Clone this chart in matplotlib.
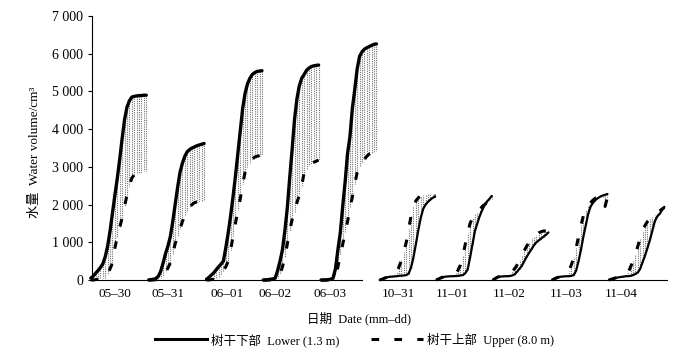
import numpy as np
import matplotlib
matplotlib.use('Agg')
import matplotlib.pyplot as plt
from matplotlib.lines import Line2D
from matplotlib.ticker import FuncFormatter

plt.rcParams['font.family'] = ['Liberation Serif', 'Noto Sans CJK SC']

# hour of day for each sample
hours = np.arange(24)

# ---------- data: cumulative water volume (cm3), hourly ----------
dates_a = ['05\u201330', '05\u201331', '06\u201301', '06\u201302', '06\u201303']
dates_b = ['10\u201331', '11\u201301', '11\u201302', '11\u201303', '11\u201304']

lower_a = [
    [50, 100, 180, 250, 330, 430, 620, 900, 1300, 1780, 2250, 2700, 3200, 3750, 4250, 4580, 4750, 4850, 4870, 4880, 4890, 4890, 4900, 4900],
    [0, 10, 20, 40, 100, 230, 450, 700, 900, 1150, 1550, 2000, 2450, 2850, 3100, 3280, 3400, 3460, 3500, 3530, 3560, 3580, 3600, 3620],
    [20, 70, 130, 190, 270, 350, 420, 500, 850, 1250, 1700, 2200, 2750, 3350, 3950, 4550, 4950, 5200, 5350, 5450, 5500, 5530, 5540, 5550],
    [0, 0, 10, 20, 30, 50, 250, 500, 800, 1300, 1900, 2700, 3450, 4250, 4800, 5150, 5350, 5450, 5560, 5620, 5660, 5680, 5690, 5700],
    [0, 0, 0, 10, 20, 50, 300, 800, 1250, 1950, 2600, 3350, 3800, 4550, 5050, 5600, 5930, 6050, 6120, 6160, 6190, 6220, 6250, 6260],
]
upper_a = [
    [0, 0, 10, 20, 30, 40, 50, 150, 300, 450, 850, 1150, 1400, 1640, 1950, 2250, 2500, 2700, 2790, 2810, 2830, 2850, 2880, 2900],
    [0, 0, 0, 10, 20, 40, 100, 200, 320, 450, 700, 960, 1150, 1350, 1550, 1700, 1830, 1930, 2000, 2050, 2070, 2080, 2090, 2100],
    [0, 0, 10, 20, 40, 80, 150, 250, 350, 500, 800, 1150, 1500, 1850, 2150, 2550, 2850, 3000, 3100, 3200, 3260, 3280, 3300, 3320],
    [0, 0, 0, 0, 10, 20, 50, 150, 350, 600, 950, 1300, 1600, 1800, 2050, 2250, 2500, 2850, 2950, 3030, 3080, 3120, 3150, 3180],
    [0, 0, 0, 0, 10, 20, 100, 350, 650, 950, 1250, 1550, 1900, 2200, 2550, 2850, 3000, 3100, 3200, 3280, 3340, 3380, 3400, 3420],
]
lower_b = [
    [0, 20, 50, 70, 85, 90, 95, 100, 110, 115, 120, 130, 170, 330, 600, 950, 1320, 1640, 1880, 2000, 2070, 2130, 2180, 2210],
    [0, 30, 60, 80, 90, 95, 100, 100, 105, 110, 120, 130, 180, 280, 600, 950, 1300, 1500, 1700, 1850, 1980, 2080, 2150, 2230],
    [0, 40, 80, 90, 95, 100, 100, 105, 120, 150, 220, 300, 380, 500, 620, 720, 820, 920, 1000, 1050, 1100, 1150, 1200, 1260],
    [0, 30, 60, 80, 90, 95, 100, 100, 110, 130, 250, 500, 800, 1150, 1450, 1750, 1950, 2050, 2120, 2170, 2210, 2240, 2260, 2280],
    [0, 20, 40, 60, 70, 80, 90, 100, 100, 110, 130, 160, 200, 300, 480, 650, 850, 1060, 1300, 1550, 1680, 1750, 1850, 1940],
]
upper_b = [
    [0, 20, 50, 70, 90, 100, 120, 200, 350, 520, 750, 1000, 1350, 1700, 1950, 2100, 2180, 2230, 2260, 2280, 2280, 2280, 2260, 2230],
    [0, 30, 60, 80, 90, 100, 110, 130, 180, 260, 400, 650, 950, 1250, 1500, 1650, 1750, 1800, 1850, 1950, 2000, 2050, 2100, 2150],
    [0, 40, 80, 90, 100, 110, 130, 170, 230, 300, 400, 520, 640, 780, 900, 1000, 1080, 1150, 1200, 1250, 1280, 1300, 1300, 1290],
    [0, 30, 60, 80, 100, 120, 150, 250, 400, 600, 850, 1150, 1450, 1700, 1850, 1950, 2050, 2120, 2170, 2200, 2200, 2180, 1950, 2200],
    [0, 20, 40, 60, 80, 100, 120, 150, 200, 350, 500, 700, 900, 1100, 1300, 1450, 1550, 1620, 1680, 1720, 1780, 1830, 1880, 1920],
]

# ---------- layout (hours along each panel) ----------
start_a = [-0.5, 23.5, 47.5, 71.0, 95.0]
tick_a = [9.5, 31.5, 56.0, 76.0, 98.8]
start_b = [0.3, 23.8, 47.3, 71.8, 95.4]
tick_b = [7.9, 30.6, 54.2, 77.8, 100.6]

fig = plt.figure(figsize=(6.96, 3.54), dpi=100)
ax1 = fig.add_axes([92 / 696, 74 / 354, 270 / 696, 264 / 354])
ax2 = fig.add_axes([379 / 696, 74 / 354, 288 / 696, 264 / 354], sharey=ax1)

dash = (0, (2.5, 5))


def draw(ax, starts, lows, ups, lw_low):
    for s, lo, up in zip(starts, lows, ups):
        x = s + hours
        ax.vlines(x, lo, up, colors='0.45', linestyles=(0, (1, 1)), lw=0.8, clip_on=False)
        ax.plot(x, lo, color='k', lw=lw_low, solid_capstyle='round', clip_on=False)
        ax.plot(x, up, color='k', lw=2.2, ls=dash, clip_on=False)


draw(ax1, start_a, lower_a, upper_a, 2.4)
draw(ax2, start_b, lower_b, upper_b, 1.6)

ax1.set_xlim(0, 112)
ax2.set_xlim(0, 119.5)
ax1.set_ylim(0, 7000)
ax1.set_yticks(np.arange(0, 7001, 1000))
ax1.yaxis.set_major_formatter(FuncFormatter(lambda v, p: f'{int(v):,}'.replace(',', ' ')))

for ax, ticks, labels in [(ax1, tick_a, dates_a), (ax2, tick_b, dates_b)]:
    ax.set_xticks(ticks)
    ax.set_xticklabels(labels)
    ax.tick_params(axis='x', length=0, pad=6, labelsize=9.5)
    ax.spines['top'].set_visible(False)
    ax.spines['right'].set_visible(False)
    ax.patch.set_visible(False)

ax1.tick_params(axis='y', direction='out', length=3, labelsize=10)
ax2.spines['left'].set_visible(False)
ax2.tick_params(axis='y', left=False, labelleft=False)

fig.text(0.05, 0.57, '水量  Water volume/cm\u00b3', rotation=90, ha='center', va='center', fontsize=9.5)
fig.text(0.516, 0.10, '日期  Date (mm\u2013dd)', ha='center', va='center', fontsize=9)

handles = [Line2D([], [], color='k', lw=2.2),
           Line2D([], [], color='k', lw=2.2, ls=dash)]
fig.legend(handles, ['树干下部  Lower (1.3 m)', '树干上部  Upper (8.0 m)'],
           loc='center', bbox_to_anchor=(0.509, 0.04), ncol=2, frameon=False,
           handlelength=4.2, columnspacing=2.5, fontsize=9, handletextpad=0.3)

fig.savefig('out.png', dpi=100)
